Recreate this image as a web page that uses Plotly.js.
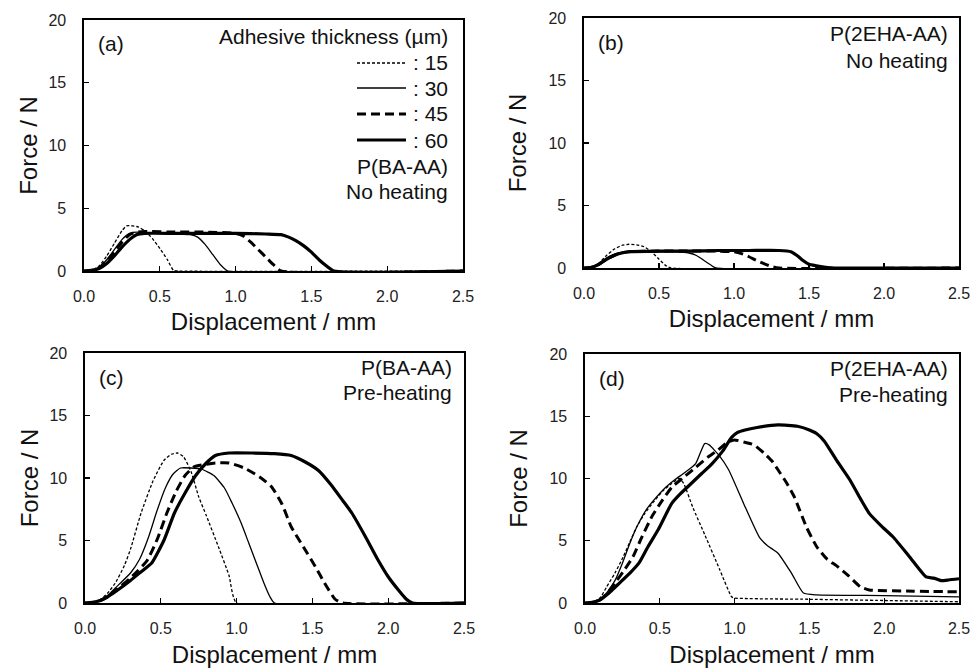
<!DOCTYPE html>
<html>
<head>
<meta charset="utf-8">
<script src="https://cdn.plot.ly/plotly-3.0.1.min.js"></script>
<style>
  html, body { margin: 0; padding: 0; background: #fff; }
  #chart { width: 972px; height: 668px; }
</style>
</head>
<body>
<div id="chart"></div>
<script>
// ---------- Data (Displacement / mm vs Force / N) ----------
const thicknessLabels = ["15", "30", "45", "60"];
const panelLetters = ["(a)", "(b)", "(c)", "(d)"];
const panelPolymers = ["P(BA-AA)", "P(2EHA-AA)", "P(BA-AA)", "P(2EHA-AA)"];
const panelConditions = ["No heating", "No heating", "Pre-heating", "Pre-heating"];
const xTickVals = [0, 0.5, 1.0, 1.5, 2.0, 2.5];
const yTickVals = [0, 5, 10, 15, 20];

// (a) P(BA-AA), no heating
const a15x = [0, 0.05, 0.1, 0.15, 0.2, 0.25, 0.28, 0.32, 0.36, 0.4, 0.45, 0.5, 0.55, 0.59, 0.62, 2.5];
const a15y = [0, 0.05, 0.4, 1.2, 2.2, 3.2, 3.6, 3.6, 3.5, 3.2, 2.6, 1.8, 0.9, 0.05, 0, 0];
const a30x = [0, 0.05, 0.1, 0.15, 0.2, 0.25, 0.3, 0.35, 0.4, 0.5, 0.6, 0.7, 0.75, 0.8, 0.85, 0.9, 0.95, 2.5];
const a30y = [0, 0.05, 0.3, 0.9, 1.7, 2.5, 3.0, 3.1, 3.0, 3.0, 2.95, 2.9, 2.7, 2.1, 1.3, 0.5, 0, 0];
const a45x = [0, 0.05, 0.1, 0.15, 0.2, 0.25, 0.3, 0.35, 0.4, 0.6, 0.8, 1.0, 1.05, 1.1, 1.15, 1.2, 1.25, 1.3, 2.5];
const a45y = [0, 0.05, 0.25, 0.8, 1.5, 2.3, 2.9, 3.1, 3.15, 3.1, 3.1, 3.0, 2.8, 2.3, 1.7, 1.1, 0.5, 0, 0];
const a60x = [0, 0.05, 0.1, 0.15, 0.2, 0.25, 0.3, 0.35, 0.4, 0.6, 0.8, 1.0, 1.2, 1.3, 1.35, 1.4, 1.45, 1.5, 1.55, 1.6, 1.65, 2.5];
const a60y = [0, 0.05, 0.2, 0.6, 1.2, 1.9, 2.5, 2.9, 3.0, 3.0, 3.0, 3.0, 2.95, 2.9, 2.7, 2.4, 2.0, 1.5, 0.9, 0.4, 0, 0];

// (b) P(2EHA-AA), no heating
const b15x = [0, 0.05, 0.1, 0.15, 0.2, 0.25, 0.3, 0.35, 0.4, 0.45, 0.5, 0.55, 0.58, 2.5];
const b15y = [0, 0.05, 0.4, 1.0, 1.5, 1.8, 1.9, 1.85, 1.7, 1.3, 0.7, 0.15, 0, 0];
const b30x = [0, 0.05, 0.1, 0.15, 0.2, 0.25, 0.3, 0.4, 0.5, 0.6, 0.7, 0.75, 0.8, 0.85, 0.88, 2.5];
const b30y = [0, 0.05, 0.35, 0.8, 1.1, 1.25, 1.3, 1.3, 1.3, 1.3, 1.2, 1.0, 0.6, 0.2, 0, 0];
const b45x = [0, 0.05, 0.1, 0.15, 0.2, 0.25, 0.3, 0.5, 0.7, 0.9, 1.0, 1.05, 1.1, 1.15, 1.2, 1.25, 1.3, 2.5];
const b45y = [0, 0.05, 0.3, 0.7, 1.0, 1.2, 1.3, 1.35, 1.35, 1.35, 1.3, 1.15, 0.9, 0.6, 0.35, 0.12, 0, 0];
const b60x = [0, 0.05, 0.1, 0.15, 0.2, 0.25, 0.3, 0.5, 0.7, 0.9, 1.1, 1.3, 1.38, 1.42, 1.46, 1.5, 1.55, 1.6, 1.65, 1.7, 2.5];
const b60y = [0, 0.05, 0.3, 0.7, 1.0, 1.2, 1.3, 1.35, 1.35, 1.4, 1.4, 1.4, 1.3, 1.0, 0.6, 0.3, 0.18, 0.08, 0.02, 0, 0];

// (c) P(BA-AA), pre-heating
const c15x = [0, 0.05, 0.1, 0.15, 0.2, 0.26, 0.3, 0.37, 0.45, 0.52, 0.57, 0.61, 0.65, 0.7, 0.75, 0.8, 0.88, 0.95, 1.0, 2.5];
const c15y = [0, 0.05, 0.25, 0.8, 1.6, 3.0, 4.3, 7.2, 9.8, 11.4, 11.9, 12.0, 11.7, 10.5, 8.5, 7.0, 4.5, 2.2, 0, 0];
const c30x = [0, 0.05, 0.1, 0.15, 0.2, 0.3, 0.36, 0.42, 0.47, 0.53, 0.58, 0.63, 0.7, 0.77, 0.85, 0.92, 0.97, 1.03, 1.08, 1.13, 1.18, 1.22, 1.25, 2.5];
const c30y = [0, 0.05, 0.2, 0.6, 1.2, 2.4, 3.5, 5.3, 7.2, 9.2, 10.3, 10.8, 10.8, 10.7, 10.2, 9.2, 8.0, 6.4, 4.8, 3.2, 1.6, 0.5, 0, 0];
const c45x = [0, 0.05, 0.1, 0.15, 0.2, 0.3, 0.35, 0.41, 0.48, 0.54, 0.6, 0.66, 0.72, 0.8, 0.86, 0.95, 1.05, 1.15, 1.23, 1.3, 1.36, 1.44, 1.52, 1.58, 1.65, 1.7, 2.5];
const c45y = [0, 0.05, 0.2, 0.5, 1.0, 2.0, 2.6, 3.4, 5.2, 7.2, 8.9, 10.2, 10.9, 11.1, 11.2, 11.2, 10.8, 10.1, 9.3, 7.9, 6.1, 4.5, 2.9, 1.6, 0.3, 0, 0];
const c60x = [0, 0.05, 0.1, 0.15, 0.2, 0.3, 0.37, 0.44, 0.52, 0.59, 0.66, 0.73, 0.8, 0.86, 0.95, 1.1, 1.25, 1.36, 1.45, 1.54, 1.62, 1.7, 1.76, 1.85, 1.93, 2.0, 2.07, 2.12, 2.16, 2.5];
const c60y = [0, 0.05, 0.2, 0.5, 0.9, 1.8, 2.5, 3.2, 5.0, 7.2, 8.8, 10.2, 11.2, 11.8, 12.0, 12.0, 11.95, 11.8, 11.3, 10.6, 9.5, 8.2, 7.2, 5.3, 3.5, 2.1, 1.0, 0.3, 0, 0];

// (d) P(2EHA-AA), pre-heating
const d15x = [0, 0.05, 0.1, 0.145, 0.2, 0.255, 0.3, 0.345, 0.4, 0.45, 0.52, 0.58, 0.63, 0.66, 0.72, 0.8, 0.9, 0.98, 1.0, 1.5, 2.0, 2.5];
const d15y = [0, 0.05, 0.4, 1.3, 2.4, 3.7, 4.9, 6.1, 7.2, 8.0, 9.0, 9.6, 10.0, 9.6, 7.7, 5.5, 2.7, 0.5, 0.4, 0.3, 0.2, 0.1];
const d30x = [0, 0.05, 0.1, 0.15, 0.2, 0.25, 0.3, 0.35, 0.41, 0.47, 0.54, 0.6, 0.67, 0.74, 0.8, 0.83, 0.9, 0.96, 1.06, 1.165, 1.22, 1.29, 1.38, 1.46, 1.55, 2.0, 2.5];
const d30y = [0, 0.05, 0.3, 0.9, 1.8, 3.2, 4.8, 6.2, 7.5, 8.4, 9.3, 9.9, 10.5, 11.2, 12.8, 12.7, 11.8, 10.7, 8.0, 5.3, 4.6, 4.0, 2.4, 0.8, 0.65, 0.6, 0.5];
const d45x = [0, 0.05, 0.1, 0.15, 0.2, 0.26, 0.32, 0.38, 0.45, 0.52, 0.58, 0.66, 0.74, 0.82, 0.89, 0.95, 1.0, 1.07, 1.13, 1.2, 1.25, 1.29, 1.35, 1.4, 1.48, 1.55, 1.62, 1.68, 1.76, 1.84, 1.9, 2.2, 2.5];
const d45y = [0, 0.05, 0.25, 0.8, 1.6, 2.6, 3.7, 5.3, 7.0, 8.3, 9.3, 10.1, 10.9, 11.7, 12.3, 12.9, 13.1, 12.9, 12.7, 12.0, 11.4, 10.7, 9.6, 8.5, 6.1, 4.5, 3.5, 3.0, 2.2, 1.3, 1.05, 0.95, 0.9];
const d60x = [0, 0.05, 0.1, 0.15, 0.23, 0.3, 0.36, 0.42, 0.49, 0.58, 0.64, 0.71, 0.78, 0.85, 0.92, 0.98, 1.02, 1.07, 1.15, 1.29, 1.42, 1.5, 1.55, 1.6, 1.68, 1.77, 1.84, 1.9, 1.98, 2.06, 2.17, 2.28, 2.33, 2.38, 2.43, 2.5];
const d60y = [0, 0.05, 0.25, 0.7, 1.6, 2.4, 3.2, 4.5, 5.9, 8.0, 8.8, 9.6, 10.4, 11.2, 12.2, 13.3, 13.7, 13.9, 14.1, 14.3, 14.2, 13.9, 13.6, 13.0, 11.5, 9.9, 8.4, 7.2, 6.2, 5.3, 3.7, 2.1, 2.0, 1.8, 1.85, 1.95];

// ---------- Styles ----------
const FONT = "Liberation Sans, Arial, Helvetica, sans-serif";
const lineStyles = [
  { color: "#000", width: 1.3, dash: "3px,2px" },
  { color: "#000", width: 1.3, dash: "solid" },
  { color: "#000", width: 3, dash: "9px,5px" },
  { color: "#000", width: 3.2, dash: "solid" }
];

const panelData = [
  [[a15x, a15y], [a30x, a30y], [a45x, a45y], [a60x, a60y]],
  [[b15x, b15y], [b30x, b30y], [b45x, b45y], [b60x, b60y]],
  [[c15x, c15y], [c30x, c30y], [c45x, c45y], [c60x, c60y]],
  [[d15x, d15y], [d30x, d30y], [d45x, d45y], [d60x, d60y]]
];

// panel frame in pixels [left, right, top, bottom]
const W = 972, H = 668;
const frames = [
  [84, 463, 20, 271],
  [584, 959, 18, 268],
  [85, 464, 353, 603],
  [585, 959, 354, 603]
];
const yTitleStandoff = [4, 15, 4, 15];
const xTitleStandoff = [9, 9, 17, 17];

const traces = [];
panelData.forEach((series, p) => {
  const sfx = p === 0 ? "" : String(p + 1);
  // draw thick first so thin lines stay visible on top
  [3, 2, 1, 0].forEach(k => {
    traces.push({
      type: "scatter", mode: "lines",
      x: series[k][0], y: series[k][1],
      xaxis: "x" + sfx, yaxis: "y" + sfx,
      name: ": " + thicknessLabels[k],
      showlegend: false,
      line: Object.assign({ shape: "spline", smoothing: 0.5 }, lineStyles[k]),
      hoverinfo: "skip"
    });
  });
});

const layout = {
  width: W, height: H,
  margin: { l: 0, r: 0, t: 0, b: 0 },
  paper_bgcolor: "#fff", plot_bgcolor: "#fff",
  font: { family: FONT, color: "#1a1a1a", size: 16 },
  showlegend: false,
  annotations: [],
  shapes: []
};

frames.forEach((f, p) => {
  const sfx = p === 0 ? "" : String(p + 1);
  const xa = {
    domain: [f[0] / W, f[1] / W],
    range: [0, 2.5], tickvals: xTickVals, tickformat: ".1f",
    ticks: "inside", ticklen: 5, tickwidth: 1.2, tickcolor: "#000",
    showline: true, mirror: true, linecolor: "#000", linewidth: 1.6,
    showgrid: false, zeroline: false,
    ticklabelstandoff: 10,
    ticklabeloverflow: "allow",
    tickfont: { family: FONT, size: 16, color: "#222" },
    title: { text: "Displacement / mm", font: { family: FONT, size: 24, color: "#111" }, standoff: xTitleStandoff[p] },
    anchor: "y" + sfx
  };
  const ya = {
    domain: [1 - f[3] / H, 1 - f[2] / H],
    range: [0, 20], tickvals: yTickVals,
    ticks: "inside", ticklen: 5, tickwidth: 1.2, tickcolor: "#000",
    showline: true, mirror: true, linecolor: "#000", linewidth: 1.6,
    showgrid: false, zeroline: false,
    ticklabelstandoff: 13,
    tickfont: { family: FONT, size: 16, color: "#222" },
    title: { text: "Force / N", font: { family: FONT, size: 24, color: "#111" }, standoff: yTitleStandoff[p] },
    anchor: "x" + sfx
  };
  layout["xaxis" + sfx] = xa;
  layout["yaxis" + sfx] = ya;

  // panel letter
  layout.annotations.push({
    xref: "paper", yref: "paper", x: (f[0] + 12) / W, y: 1 - (f[2] + 24) / H,
    xanchor: "left", yanchor: "middle", showarrow: false,
    text: panelLetters[p], font: { family: FONT, size: 21, color: "#111" }
  });
});

// right-side texts
const rightTextRows = [
  { p: 0, rows: [[166, panelPolymers[0]], [191, panelConditions[0]]], rx: 450 },
  { p: 1, rows: [[33, panelPolymers[1]], [60, panelConditions[1]]], rx: 950 },
  { p: 2, rows: [[367, panelPolymers[2]], [393, panelConditions[2]]], rx: 454 },
  { p: 3, rows: [[368, panelPolymers[3]], [394, panelConditions[3]]], rx: 950 }
];
rightTextRows.forEach(r => {
  r.rows.forEach(([py, txt]) => {
    layout.annotations.push({
      xref: "paper", yref: "paper", x: r.rx / W, y: 1 - py / H,
      xanchor: "right", yanchor: "middle", showarrow: false,
      text: txt, font: { family: FONT, size: 21, color: "#111" }
    });
  });
});

// legend (panel a) built from the same line styles
layout.annotations.push({
  xref: "paper", yref: "paper", x: 450 / W, y: 1 - 37 / H,
  xanchor: "right", yanchor: "middle", showarrow: false,
  text: "Adhesive thickness (µm)", font: { family: FONT, size: 21, color: "#111" }
});
const legendRows = [63, 88, 114, 140];
thicknessLabels.forEach((lab, k) => {
  const py = legendRows[k];
  layout.annotations.push({
    xref: "paper", yref: "paper", x: 450 / W, y: 1 - py / H,
    xanchor: "right", yanchor: "middle", showarrow: false,
    text: ": " + lab, font: { family: FONT, size: 21, color: "#111" }
  });
  layout.shapes.push({
    type: "line", xref: "paper", yref: "paper",
    x0: 357 / W, x1: 406 / W, y0: 1 - py / H, y1: 1 - py / H,
    line: lineStyles[k]
  });
});

Plotly.newPlot("chart", traces, layout, { staticPlot: true, displayModeBar: false });
</script>
</body>
</html>
